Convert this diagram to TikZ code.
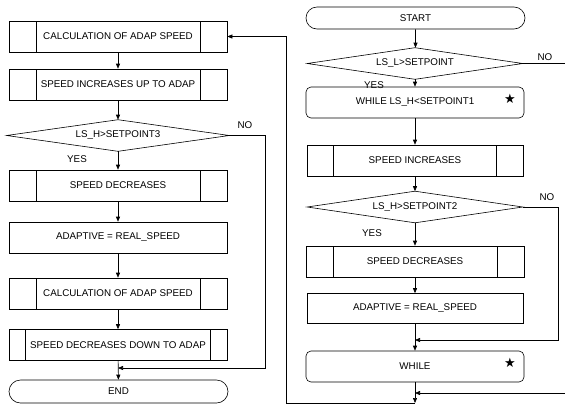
\documentclass[tikz,border=0pt]{standalone}
\usepackage{fontspec}
\setmainfont{Liberation Sans}
\newfontfamily\symfont{DejaVu Sans}
\usetikzlibrary{shapes.geometric,shapes.misc,arrows.meta}
\tikzset{
  lbl/.style={font=\fontsize{9.8}{11}\selectfont, inner sep=0pt},
  box/.style={lbl, draw, minimum width=218pt, minimum height=31pt},
  predef/.style={box, path picture={
     \draw ([xshift=#1]path picture bounding box.north west) -- ([xshift=#1]path picture bounding box.south west);
     \draw ([xshift=-#1]path picture bounding box.north east) -- ([xshift=-#1]path picture bounding box.south east);}},
  term/.style={lbl, draw, rounded rectangle, minimum width=219pt, minimum height=22pt},
  whilebox/.style={box, rounded corners=5pt},
  decide/.style={lbl, rectangle, minimum width=216pt, minimum height=31pt},
  rhomb/.style={line join=miter},
  arr/.style={-{Triangle[length=5pt,width=4pt]}},
  starmark/.style={font=\symfont\fontsize{13}{14}\selectfont, inner sep=0pt},
}
\begin{document}
\begin{tikzpicture}[x=1pt,y=-1pt,line width=0.6pt]
\useasboundingbox (0,0) rectangle (565,408);
% left column
\node[predef=27pt] (l1) at (118,36.5) {CALCULATION OF ADAP SPEED};
\node[predef=27pt] (l2) at (118,84.5) {SPEED INCREASES UP TO ADAP};
\node[decide, minimum width=222pt] (d3) at (118,135.5) {LS\_H>SETPOINT3};
\node[predef=27pt] (l3) at (118,185.5) {SPEED DECREASES};
\node[box] (l4) at (118,237.5) {ADAPTIVE = REAL\_SPEED};
\node[predef=27pt] (l5) at (118,293.5) {CALCULATION OF ADAP SPEED};
\node[predef=16.5pt] (l6) at (118,345) {SPEED DECREASES DOWN TO ADAP};
\node[term, minimum height=23pt] (endn) at (118.5,391.5) {END};
\node[lbl] (yes3) at (77,159) {YES};
\node[lbl] (no3) at (245,125) {NO};
% right column
\node[term] (start) at (415.5,18) {START};
\node[decide, minimum width=215pt] (d1) at (415,63.5) {LS\_L>SETPOINT};
\node[whilebox] (w1) at (415,102.5) {WHILE LS\_H<SETPOINT1};
\node[starmark] (s1) at (510,99) {★};
\node[predef=26.5pt, minimum width=216pt] (r1) at (415,160.5) {SPEED INCREASES};
\node[decide, minimum width=215pt] (d2) at (415,207) {LS\_H>SETPOINT2};
\node[predef=27pt] (r2) at (415,261.5) {SPEED DECREASES};
\node[box, minimum width=216pt, minimum height=30pt] (r3) at (415,308.5) {ADAPTIVE = REAL\_SPEED};
\node[whilebox] (w2) at (415,366.5) {WHILE};
\node[starmark] (s2) at (510,363) {★};
\node[lbl] (yes1) at (374,85) {YES};
\node[lbl] (no1) at (545,57) {NO};
\node[lbl] (yes2) at (372,233) {YES};
\node[lbl] (no2) at (547,197) {NO};
% diamond outlines
\foreach \d in {d1,d2,d3}
  \draw[rhomb] (\d.north) -- (\d.east) -- (\d.south) -- (\d.west) -- cycle;
% coordinates
\coordinate (m3) at (118,368);
\coordinate (m2) at (415,340);
\coordinate (m1) at (415,393);
\coordinate (bot) at (415,403);
\coordinate (edge1) at (565,63.5);
\coordinate (edge2) at (565,393);
% left connectors
\draw[arr] (l1) -- (l2);
\draw[arr] (l2) -- (l2.south |- d3.north);
\draw[arr] (l3.north |- d3.south) -- (l3);
\draw[arr] (l3) -- (l4);
\draw[arr] (l4) -- (l5);
\draw[arr] (l5) -- (l6);
\draw[arr] (l6) -- (endn);
\draw[arr] (d3.east) -- (265,135.5) -- (265,368) -- (m3);
% right connectors
\draw[arr] (start) -- (start.south |- d1.north);
\draw (d1.east) -- (edge1);
\draw[arr] (w1.north |- d1.south) -- (w1);
\draw[arr] (w1) -- (r1);
\draw[arr] (r1) -- (r1.south |- d2.north);
\draw[arr] (r2.north |- d2.south) -- (r2);
\draw[arr] (r2) -- (r3);
\draw[arr] (r3) -- (w2);
\draw[arr] (d2.east) -- (558,207) -- (558,340) -- (m2);
\draw[arr] (w2) -- (bot);
\draw[arr] (edge2) -- (m1);
\draw[arr] (bot) -- (286,403) -- (286,36.5) -- (l1.east);
\end{tikzpicture}
\end{document}
